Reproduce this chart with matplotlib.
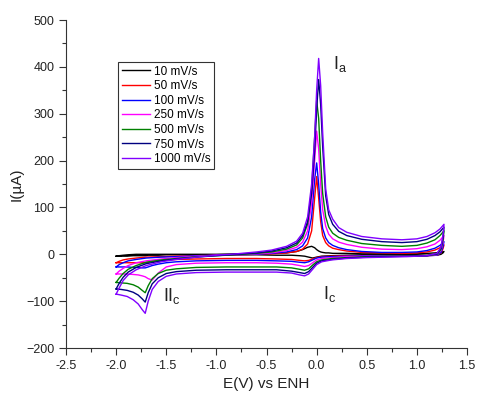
import matplotlib
matplotlib.use("Agg")
import matplotlib.pyplot as plt
from matplotlib.ticker import MultipleLocator

plt.rcParams['font.family'] = ['Liberation Sans', 'DejaVu Sans']
plt.rcParams['mathtext.fontset'] = 'custom'
plt.rcParams['mathtext.rm'] = 'Liberation Sans'
plt.rcParams['mathtext.it'] = 'Liberation Sans'

# Potential grids (V vs ENH)
E_fwd = [-2.0, -1.97, -1.93, -1.88, -1.8, -1.7, -1.55, -1.4, -1.2, -1.0, -0.8, -0.6, -0.45, -0.3,
         -0.2, -0.14, -0.09, -0.05, -0.02, 0.0, 0.02, 0.04, 0.06, 0.09, 0.12, 0.16, 0.22, 0.3,
         0.45, 0.65, 0.85, 1.0, 1.1, 1.18, 1.23, 1.27]
E_rev = [1.27, 1.26, 1.24, 1.2, 1.1, 0.9, 0.7, 0.5, 0.3, 0.15, 0.05, 0.0, -0.04, -0.08, -0.12,
         -0.17, -0.25, -0.4, -0.6, -0.9, -1.2, -1.4, -1.5, -1.58, -1.64, -1.68, -1.71, -1.74,
         -1.78, -1.83, -1.89, -1.95, -2.0]

labels = ["10 mV/s", "50 mV/s", "100 mV/s", "250 mV/s", "500 mV/s", "750 mV/s", "1000 mV/s"]
colors = ["#000000", "#FF0000", "#0000FF", "#FF00FF", "#008000", "#000080", "#8000FF"]

I_fwd_10 = [-4, -3, -2, -1, 0, 0, 0, 0, 0, 0, 1, 1, 2, 3, 6, 10, 15, 17, 14, 10, 7, 5, 4, 3, 3, 2,
            2, 2, 1, 1, 1, 1, 2, 3, 4, 6]
I_rev_10 = [6, 3, 0, -2, -2, -2, -2, -2, -2, -3, -4, -6, -8, -6, -4, -3, -2, -2, -1, -1, -1, -1,
            -1, -2, -2, -2, -3, -3, -3, -3, -4, -4, -4]

I_fwd_50 = [-18, -15, -12, -10, -8, -6, -5, -4, -3, -2, -1, 0, 1, 3, 6, 11, 22, 50, 120, 166, 120,
            70, 40, 25, 18, 13, 10, 7, 4, 3, 2, 3, 5, 9, 14, 20]
I_rev_50 = [20, 12, 3, -2, -3, -3, -3, -3, -3, -4, -5, -7, -10, -13, -14, -13, -11, -10, -9, -9,
            -10, -11, -12, -14, -15, -17, -18, -18, -18, -18, -18, -18, -18]

I_fwd_100 = [-27, -22, -18, -14, -11, -8, -6, -5, -3, -2, -1, 0, 2, 5, 10, 18, 35, 80, 160, 195,
             150, 90, 55, 35, 25, 19, 14, 10, 6, 4, 4, 5, 8, 13, 19, 27]
I_rev_100 = [27, 16, 4, -2, -3, -3, -3, -3, -4, -5, -6, -8, -12, -16, -18, -17, -15, -14, -13,
             -13, -14, -16, -18, -21, -24, -27, -29, -29, -28, -28, -27, -27, -27]

I_fwd_250 = [-42, -36, -30, -24, -18, -14, -10, -7, -4, -2, -1, 1, 3, 8, 15, 26, 50, 110, 200,
             263, 225, 150, 95, 60, 43, 33, 26, 21, 15, 11, 10, 12, 16, 22, 30, 40]
I_rev_250 = [40, 24, 8, -1, -3, -3, -4, -4, -5, -7, -9, -12, -18, -24, -26, -24, -21, -19, -18,
             -18, -19, -22, -27, -40, -55, -52, -48, -46, -44, -43, -42, -42, -42]

I_fwd_500 = [-60, -51, -41, -32, -24, -17, -12, -9, -5, -3, -1, 2, 5, 11, 20, 35, 65, 140, 250,
             328, 290, 200, 130, 80, 58, 45, 36, 30, 23, 19, 17, 19, 24, 31, 40, 50]
I_rev_500 = [50, 30, 10, 0, -3, -4, -4, -5, -7, -9, -12, -16, -23, -31, -34, -32, -29, -27, -27,
             -27, -28, -31, -34, -41, -52, -67, -82, -77, -70, -65, -62, -61, -60]

I_fwd_750 = [-74, -62, -49, -38, -28, -20, -14, -10, -6, -3, 0, 3, 7, 14, 24, 40, 70, 130, 220,
             310, 373, 320, 230, 125, 85, 64, 49, 40, 32, 27, 25, 27, 32, 40, 48, 58]
I_rev_750 = [58, 36, 13, 1, -3, -4, -5, -6, -8, -11, -14, -19, -28, -37, -41, -39, -36, -33, -33,
             -33, -34, -37, -41, -50, -63, -82, -102, -95, -87, -81, -77, -75, -74]

I_fwd_1000 = [-85, -72, -56, -44, -33, -24, -16, -11, -6, -2, 1, 5, 9, 17, 28, 45, 80, 150, 250,
              350, 418, 360, 260, 140, 95, 75, 57, 47, 38, 33, 31, 33, 38, 46, 54, 64]
I_rev_1000 = [64, 40, 15, 2, -3, -5, -6, -7, -9, -12, -16, -22, -32, -42, -46, -44, -40, -38, -38,
              -38, -39, -42, -47, -58, -75, -100, -126, -118, -106, -97, -90, -87, -85]

fwd = [I_fwd_10, I_fwd_50, I_fwd_100, I_fwd_250, I_fwd_500, I_fwd_750, I_fwd_1000]
rev = [I_rev_10, I_rev_50, I_rev_100, I_rev_250, I_rev_500, I_rev_750, I_rev_1000]

fig = plt.figure(figsize=(4.86, 3.98), dpi=100)
ax = fig.add_axes([0.1358, 0.1256, 0.8252, 0.8241])

for lab, col, f, r in zip(labels, colors, fwd, rev):
    ax.plot(E_fwd + E_rev[1:], f + r[1:], color=col, lw=1.0, label=lab)

ax.set_xlim(-2.5, 1.5)
ax.set_ylim(-200, 500)
ax.xaxis.set_major_locator(MultipleLocator(0.5))
ax.xaxis.set_minor_locator(MultipleLocator(0.25))
ax.yaxis.set_major_locator(MultipleLocator(100))
ax.yaxis.set_minor_locator(MultipleLocator(50))
ax.xaxis.set_major_formatter(plt.FuncFormatter(lambda v, p: f"{v:.1f}"))
ax.spines['top'].set_visible(False)
ax.spines['right'].set_visible(False)
ax.tick_params(which='major', direction='out', length=5, width=0.8, labelsize=9, colors='#333333',
               labelcolor='#222222')
ax.tick_params(which='minor', direction='out', length=3, width=0.8, colors='#333333')
for s in ['left', 'bottom']:
    ax.spines[s].set_color('#333333')

ax.set_xlabel("E(V) vs ENH", fontsize=11, color='#222222')
ax.set_ylabel("I(\u00b5A)", fontsize=11, color='#222222', labelpad=2)

leg = ax.legend(loc='upper left', bbox_to_anchor=(0.13, 0.872), borderaxespad=0, fontsize=8.5,
                frameon=True, fancybox=False, edgecolor='#000000', handlelength=2.4,
                handletextpad=0.3, labelspacing=0.22, borderpad=0.3)
leg.get_frame().set_linewidth(0.8)

ax.text(0.16, 395, r"I$_\mathrm{a}$", fontsize=13, color='#222222')
ax.text(0.06, -95, r"I$_\mathrm{c}$", fontsize=13, color='#222222')
ax.text(-1.53, -100, r"II$_\mathrm{c}$", fontsize=13, color='#222222')

fig.savefig("out.png", dpi=100)
